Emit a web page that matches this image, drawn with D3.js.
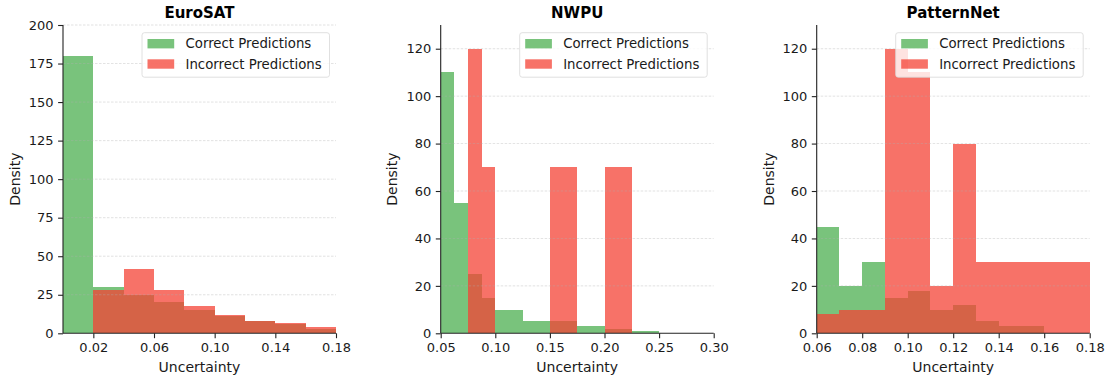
<!DOCTYPE html>
<html>
<head>
<meta charset="utf-8">
<script src="https://cdn.jsdelivr.net/npm/d3@7"></script>
<style>
  body { margin: 0; background: #fff; }
  text { font-family: "DejaVu Sans", sans-serif; }
</style>
</head>
<body>
<div id="chart"></div>
<script>
// ---- data ----
const titles = ['EuroSAT', 'NWPU', 'PatternNet'];
const seriesNames = ['Correct Predictions', 'Incorrect Predictions'];

const euroEdges = [0, 0.02, 0.04, 0.06, 0.08, 0.10, 0.12, 0.14, 0.16, 0.18];
const euroCorrect = [180, 30, 25, 20, 15, 11, 8, 6, 3];
const euroIncorrect = [0, 28, 42, 28, 18, 12, 8, 6.5, 4.3];

const nwpuEdges = [0.05, 0.0625, 0.075, 0.0875, 0.10, 0.125, 0.15, 0.175, 0.20, 0.225, 0.25];
const nwpuCorrect = [110, 55, 25, 15, 10, 5, 5, 3, 2, 1];
const nwpuIncorrect = [0, 0, 120, 70, 0, 0, 70, 0, 70, 0];

const patEdges = [0.06, 0.07, 0.08, 0.09, 0.10, 0.11, 0.12, 0.13, 0.14, 0.15, 0.16, 0.17, 0.18];
const patCorrect = [45, 20, 30, 15, 18, 10, 12, 5, 3, 3, 0, 0];
const patIncorrect = [8, 10, 10, 120, 110, 20, 80, 30, 30, 30, 30, 30];

const euroXTicks = [0.02, 0.06, 0.10, 0.14, 0.18];
const nwpuXTicks = [0.05, 0.10, 0.15, 0.20, 0.25, 0.30];
const patXTicks = [0.06, 0.08, 0.10, 0.12, 0.14, 0.16, 0.18];
const euroYTicks = [0, 25, 50, 75, 100, 125, 150, 175, 200];
const otherYTicks = [0, 20, 40, 60, 80, 100, 120];

const panels = [
  { edges: euroEdges, correct: euroCorrect, incorrect: euroIncorrect, xDomain: [0, 0.18], yMax: 200, xTicks: euroXTicks, yTicks: euroYTicks, left: 63 },
  { edges: nwpuEdges, correct: nwpuCorrect, incorrect: nwpuIncorrect, xDomain: [0.05, 0.30], yMax: 130, xTicks: nwpuXTicks, yTicks: otherYTicks, left: 440.7 },
  { edges: patEdges, correct: patCorrect, incorrect: patIncorrect, xDomain: [0.06, 0.18], yMax: 130, xTicks: patXTicks, yTicks: otherYTicks, left: 816.7 }
];

const colors = ['#4CAF50', '#F44336'];
const W = 1109, H = 381;
const plotW = 273, plotTop = 25, plotBottom = 333.3;

const svg = d3.select('#chart').append('svg')
  .attr('width', W)
  .attr('height', H);

panels.forEach((p, k) => {
  const x = d3.scaleLinear().domain(p.xDomain).range([p.left, p.left + plotW]);
  const y = d3.scaleLinear().domain([0, p.yMax]).range([plotBottom, plotTop]);
  const g = svg.append('g');

  // bars: correct first, incorrect on top
  [p.correct, p.incorrect].forEach((vals, s) => {
    const bins = vals.map((v, i) => ({ x0: p.edges[i], x1: p.edges[i + 1], v }))
      .filter(d => d.v > 0);
    g.append('g').selectAll('rect')
      .data(bins)
      .enter()
      .append('rect')
      .attr('x', d => x(d.x0))
      .attr('width', d => x(d.x1) - x(d.x0))
      .attr('y', d => y(d.v))
      .attr('height', d => y(0) - y(d.v))
      .attr('fill', colors[s])
      .attr('shape-rendering', 'crispEdges')
      .attr('opacity', 0.75);
  });

  // horizontal grid (drawn faintly over the bars)
  g.append('g').selectAll('line')
    .data(p.yTicks.filter(t => t > 0))
    .enter()
    .append('line')
    .attr('x1', p.left)
    .attr('x2', p.left + plotW)
    .attr('y1', d => y(d))
    .attr('y2', d => y(d))
    .attr('stroke', '#b0b0b0')
    .attr('stroke-width', 0.8)
    .attr('stroke-dasharray', '2.5,1.5')
    .attr('opacity', 0.45);

  // axes
  const xAxis = g.append('g')
    .attr('transform', `translate(0,${plotBottom})`)
    .call(d3.axisBottom(x).tickValues(p.xTicks).tickFormat(d3.format('.2f'))
      .tickSize(4.9).tickPadding(4.8));
  const yAxis = g.append('g')
    .attr('transform', `translate(${p.left},0)`)
    .call(d3.axisLeft(y).tickValues(p.yTicks).tickFormat(d3.format('d'))
      .tickSize(4.9).tickPadding(4.5));

  [xAxis, yAxis].forEach(a => {
    a.select('.domain').attr('stroke', '#222').attr('stroke-width', 1.1);
    a.selectAll('.tick line').attr('stroke', '#222').attr('stroke-width', 1.1);
    a.selectAll('.tick text')
      .attr('fill', '#1a1a1a')
      .style('font-size', '13px')
      .style('font-family', '"DejaVu Sans", sans-serif');
  });
  // y spine should run to the top of the plot
  yAxis.select('.domain').attr('d', `M0,${plotBottom}V${plotTop}`);
  xAxis.select('.domain').attr('d', `M${p.left},0H${p.left + plotW}`);

  // title
  g.append('text')
    .attr('x', p.left + plotW / 2)
    .attr('y', 18.2)
    .attr('text-anchor', 'middle')
    .style('font-size', '15px')
    .style('font-weight', 'bold')
    .text(titles[k]);

  // axis labels
  g.append('text')
    .attr('x', p.left + plotW / 2)
    .attr('y', 372)
    .attr('text-anchor', 'middle')
    .style('font-size', '14px')
    .attr('fill', '#1a1a1a')
    .text('Uncertainty');

  const yLabelX = [20, 397, 774][k];
  g.append('text')
    .attr('transform', `translate(${yLabelX},${(plotTop + plotBottom) / 2}) rotate(-90)`)
    .attr('text-anchor', 'middle')
    .style('font-size', '14px')
    .attr('fill', '#1a1a1a')
    .text('Density');

  // legend
  const lw = 187.5, lh = 44.5;
  const lx = p.left + plotW - 6.5 - lw, ly = 32.7;
  const leg = g.append('g').attr('transform', `translate(${lx},${ly})`);
  leg.append('rect')
    .attr('width', lw)
    .attr('height', lh)
    .attr('rx', 2.5)
    .attr('fill', '#fff')
    .attr('fill-opacity', 0.8)
    .attr('stroke', '#d8d8d8')
    .attr('stroke-width', 0.8);
  seriesNames.forEach((name, s) => {
    const cy = 11 + s * 20.3;
    leg.append('rect')
      .attr('x', 5.5)
      .attr('y', cy - 4.7)
      .attr('width', 26.7)
      .attr('height', 9.4)
      .attr('fill', colors[s])
      .attr('opacity', 0.75);
    leg.append('text')
      .attr('x', 43.5)
      .attr('y', cy + 4.8)
      .style('font-size', '13.3px')
      .attr('fill', '#1a1a1a')
      .text(name);
  });
});
</script>
</body>
</html>
